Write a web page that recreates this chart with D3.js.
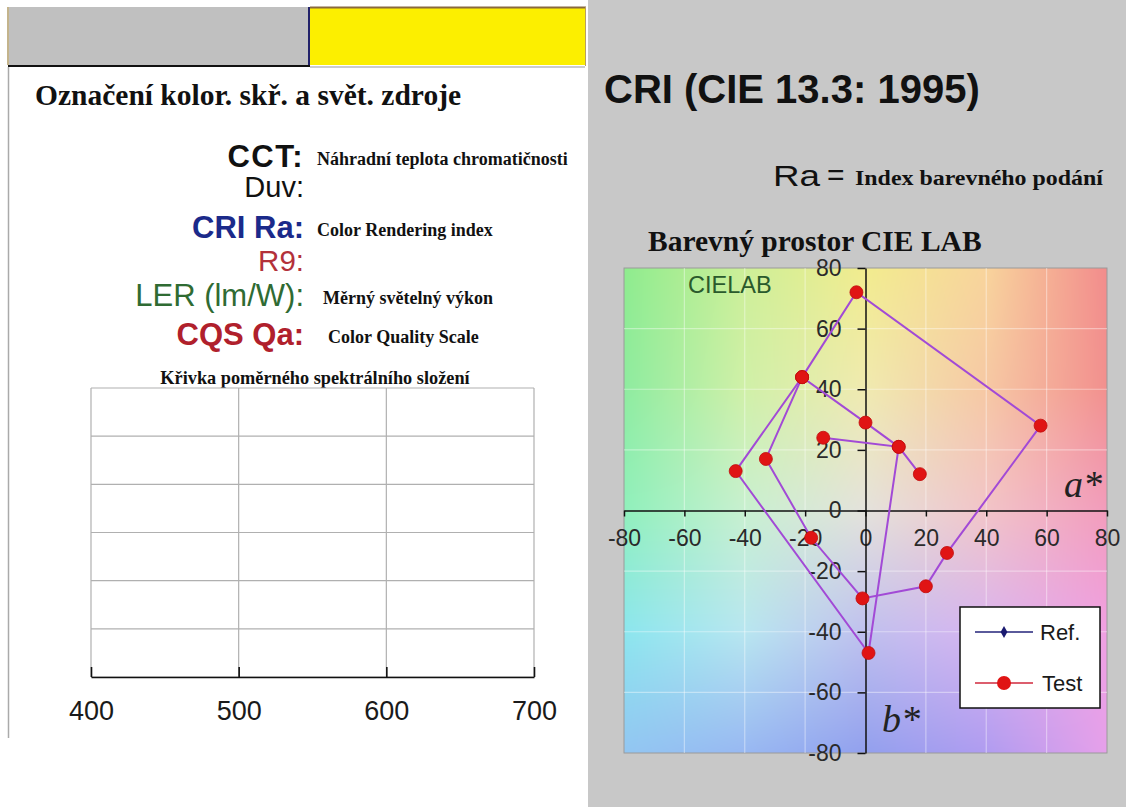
<!DOCTYPE html>
<html>
<head>
<meta charset="utf-8">
<script src="https://cdn.jsdelivr.net/npm/d3@7"></script>
<style>
  body { margin: 0; background: #fff; }
  svg { display: block; }
  .sans { font-family: "Liberation Sans", Arial, sans-serif; }
  .serif { font-family: "Liberation Serif", "Times New Roman", serif; }
</style>
</head>
<body>
<svg id="chart" width="1126" height="807"></svg>
<script>
// ---- data -------------------------------------------------------------
// left panel: labels + descriptions
const infoLabels = ['CCT:', 'Duv:', 'CRI Ra:', 'R9:', 'LER (lm/W):', 'CQS Qa:'];
const infoTexts = ['Náhradní teplota chromatičnosti', '', 'Color Rendering index', '', 'Měrný světelný výkon', 'Color Quality Scale'];
const infoColors = ['#111', '#111', '#1b2a8a', '#b3313a', '#2f6b33', '#b0202c'];
const infoBold = [true, false, true, false, false, true];

// spectrum chart (empty curve, only the frame is left)
const waveTicks = [400, 500, 600, 700];
const powerTicks = [0, 0.2, 0.4, 0.6, 0.8, 1.0, 1.2];

// CIELAB chart
const labTicks = [-80, -60, -40, -20, 0, 20, 40, 60, 80];
// first series: closed loop of eight samples
const refA = [-21, -3, 58, 27, 20, -1, -18, -33, -21];
const refB = [44, 72, 28, -14, -25, -29, -9, 17, 44];
// second series: open path
const testA = [18, 11, 0, -21, -43, 1, 11, -14];
const testB = [12, 21, 29, 44, 13, -47, 21, 24];
const legendNames = ['Ref.', 'Test'];

// background tint of the a*/b* plane, rows b* = 80..-80, cols a* = -80..80
const planeA = [-80, -40, 0, 40, 80];
const planeB = [80, 40, 0, -40, -80];
const planeColors = [
  ['#8eec8e', '#cdef98', '#f2ec8e', '#f8d49c', '#f28c8c'],
  ['#8eeca0', '#d0f0a8', '#f0eab0', '#f6c8a4', '#f2908e'],
  ['#90f0bc', '#c8f0d0', '#e4e2dc', '#f2c4c8', '#f29cbc'],
  ['#8ce6ee', '#b8e6f0', '#c0c0ee', '#d8b4f0', '#f0a0e2'],
  ['#92c6f2', '#98b8f2', '#92a0ee', '#b09cf0', '#e6a0ea']
];

// ---- drawing ----------------------------------------------------------
const svg = d3.select('#chart');

// backgrounds
svg.append('rect').attr('x', 0).attr('y', 0).attr('width', 588).attr('height', 807).attr('fill', '#fff');
svg.append('rect').attr('x', 588).attr('y', 0).attr('width', 538).attr('height', 807).attr('fill', '#c8c8c8');

// top bar
svg.append('rect').attr('x', 8).attr('y', 7).attr('width', 301).attr('height', 58).attr('fill', '#c0c0c0');
svg.append('rect').attr('x', 310).attr('y', 7).attr('width', 275).attr('height', 58).attr('fill', '#fcef00');
svg.append('line').attr('x1', 310).attr('x2', 586).attr('y1', 7.5).attr('y2', 7.5).attr('stroke', '#8a6a3c').attr('stroke-width', 2);
svg.append('line').attr('x1', 8).attr('x2', 8).attr('y1', 7).attr('y2', 65).attr('stroke', '#c4b48c').attr('stroke-width', 2);
svg.append('line').attr('x1', 309).attr('x2', 309).attr('y1', 7).attr('y2', 66).attr('stroke', '#22226a').attr('stroke-width', 2);
svg.append('line').attr('x1', 8).attr('x2', 310).attr('y1', 66).attr('y2', 66).attr('stroke', '#111').attr('stroke-width', 2);
svg.append('line').attr('x1', 310).attr('x2', 585).attr('y1', 67).attr('y2', 67).attr('stroke', '#999').attr('stroke-width', 1);
svg.append('line').attr('x1', 585.5).attr('x2', 585.5).attr('y1', 7).attr('y2', 66).attr('stroke', '#b8a060').attr('stroke-width', 1);
svg.append('line').attr('x1', 8.5).attr('x2', 8.5).attr('y1', 67).attr('y2', 738).attr('stroke', '#aaa').attr('stroke-width', 1.5);

// left heading
svg.append('text').attr('class', 'serif')
  .attr('x', 35).attr('y', 105)
  .attr('font-size', 29.5).attr('font-weight', 'bold').attr('fill', '#111')
  .text('Označení kolor. skř. a svět. zdroje');

const rowY = [167, 197, 238, 271, 306, 345];
const rowSize = [31, 29, 31, 29.5, 31, 31];
const info = svg.append('g');
info.selectAll('text.lab').data(infoLabels).join('text')
  .attr('class', 'sans lab')
  .attr('x', 304).attr('y', (d, i) => rowY[i])
  .attr('text-anchor', 'end')
  .attr('font-size', (d, i) => rowSize[i])
  .attr('letter-spacing', (d, i) => i === 0 ? 1.5 : 0)
  .attr('font-weight', (d, i) => infoBold[i] ? 'bold' : 'normal')
  .attr('fill', (d, i) => infoColors[i])
  .text(d => d);
info.selectAll('text.desc').data(infoTexts).join('text')
  .attr('class', 'serif desc')
  .attr('x', (d, i) => i >= 4 ? 323 + (i - 4) * 5 : 317)
  .attr('y', (d, i) => rowY[i] - 2)
  .attr('font-size', 18).attr('font-weight', 'bold').attr('fill', '#111')
  .text(d => d);

// spectrum chart
const xs = d3.scaleLinear().domain([400, 700]).range([91, 534]);
const ys = d3.scaleLinear().domain([0, 1.2]).range([677, 388]);

svg.append('text').attr('class', 'serif')
  .attr('x', 315).attr('y', 384).attr('text-anchor', 'middle')
  .attr('font-size', 18.3).attr('font-weight', 'bold').attr('fill', '#111')
  .text('Křivka poměrného spektrálního složení');

const spec = svg.append('g');
spec.selectAll('line.h').data(powerTicks).join('line')
  .attr('class', 'h')
  .attr('x1', xs(400)).attr('x2', xs(700))
  .attr('y1', d => ys(d)).attr('y2', d => ys(d))
  .attr('stroke', '#b0b0b0').attr('stroke-width', 1.2);
spec.selectAll('line.v').data(waveTicks).join('line')
  .attr('class', 'v')
  .attr('x1', d => xs(d)).attr('x2', d => xs(d))
  .attr('y1', ys(1.2)).attr('y2', ys(0))
  .attr('stroke', '#b0b0b0').attr('stroke-width', 1.2);

const specAxis = spec.append('g')
  .attr('transform', `translate(0,${ys(0)})`)
  .call(d3.axisBottom(xs).tickValues(waveTicks).tickSizeInner(-10).tickSizeOuter(0).tickPadding(24));
specAxis.select('.domain').attr('stroke', '#111').attr('stroke-width', 1.6);
specAxis.selectAll('.tick line').attr('stroke', '#111').attr('stroke-width', 1.6);
specAxis.selectAll('.tick text')
  .attr('class', 'sans').attr('font-size', 27).attr('fill', '#1a1a1a');

// right panel headings
svg.append('text').attr('class', 'sans')
  .attr('x', 604).attr('y', 103)
  .attr('font-size', 40).attr('font-weight', 'bold').attr('fill', '#111')
  .text('CRI (CIE 13.3: 1995)');
svg.append('text').attr('class', 'sans')
  .attr('x', 773).attr('y', 186).attr('font-size', 30).attr('fill', '#111')
  .attr('textLength', 47).attr('lengthAdjust', 'spacingAndGlyphs')
  .text('Ra');
svg.append('text').attr('class', 'sans')
  .attr('x', 827).attr('y', 185).attr('font-size', 30).attr('fill', '#111')
  .text('=');
svg.append('text').attr('class', 'serif')
  .attr('x', 855).attr('y', 185).attr('font-size', 20).attr('font-weight', 'bold').attr('fill', '#111')
  .attr('textLength', 248).attr('lengthAdjust', 'spacingAndGlyphs')
  .text('Index barevného podání');

svg.append('text').attr('class', 'serif')
  .attr('x', 648).attr('y', 251)
  .attr('font-size', 29.5).attr('font-weight', 'bold').attr('fill', '#111')
  .text('Barevný prostor CIE LAB');

// CIELAB chart
const x = d3.scaleLinear().domain([-80, 80]).range([624, 1107]);
const y = d3.scaleLinear().domain([-80, 80]).range([753, 268]);

// background: bilinear blend of the tint grid, painted on a canvas
const cw = Math.round(x(80) - x(-80));
const ch = Math.round(y(-80) - y(80));
const canvas = document.createElement('canvas');
canvas.width = cw; canvas.height = ch;
const ctx = canvas.getContext('2d');
const img = ctx.createImageData(cw, ch);
const tint = planeColors.map(row => row.map(c => d3.rgb(c)));
const colIdx = d3.scaleLinear().domain(d3.extent(planeA)).range([0, planeA.length - 1]).clamp(true);
const rowIdx = d3.scaleLinear().domain([planeB[0], planeB[planeB.length - 1]]).range([0, planeB.length - 1]).clamp(true);
for (let j = 0; j < ch; j++) {
  const r = rowIdx(y.invert(y(80) + j + 0.5));
  const r0 = Math.min(Math.floor(r), planeB.length - 2), fr = r - r0;
  for (let i = 0; i < cw; i++) {
    const c = colIdx(x.invert(x(-80) + i + 0.5));
    const c0 = Math.min(Math.floor(c), planeA.length - 2), fc = c - c0;
    const p00 = tint[r0][c0], p01 = tint[r0][c0 + 1], p10 = tint[r0 + 1][c0], p11 = tint[r0 + 1][c0 + 1];
    const k = (j * cw + i) * 4;
    ['r', 'g', 'b'].forEach((ch_, n) => {
      const top = p00[ch_] * (1 - fc) + p01[ch_] * fc;
      const bot = p10[ch_] * (1 - fc) + p11[ch_] * fc;
      img.data[k + n] = top * (1 - fr) + bot * fr;
    });
    img.data[k + 3] = 255;
  }
}
ctx.putImageData(img, 0, 0);

const plot = svg.append('g');
plot.append('image')
  .attr('x', x(-80)).attr('y', y(80)).attr('width', cw).attr('height', ch)
  .attr('href', canvas.toDataURL());
plot.append('rect')
  .attr('x', x(-80)).attr('y', y(80)).attr('width', cw).attr('height', ch)
  .attr('fill', 'none').attr('stroke', '#9a9a9a').attr('stroke-width', 1);

const grid = labTicks.filter(d => d !== 0 && Math.abs(d) !== 80);
plot.selectAll('line.gx').data(grid).join('line')
  .attr('class', 'gx')
  .attr('x1', d => x(d)).attr('x2', d => x(d)).attr('y1', y(80)).attr('y2', y(-80))
  .attr('stroke', '#fff').attr('stroke-opacity', 0.4).attr('stroke-width', 1.2);
plot.selectAll('line.gy').data(grid).join('line')
  .attr('class', 'gy')
  .attr('y1', d => y(d)).attr('y2', d => y(d)).attr('x1', x(-80)).attr('x2', x(80))
  .attr('stroke', '#fff').attr('stroke-opacity', 0.4).attr('stroke-width', 1.2);

plot.append('text').attr('class', 'sans')
  .attr('x', 688).attr('y', 293)
  .attr('font-size', 23.5).attr('fill', '#2a5a2c')
  .text('CIELAB');

const fmt = d => String(d);
const xAxis = plot.append('g')
  .attr('transform', `translate(0,${y(0)})`)
  .call(d3.axisBottom(x).tickValues(labTicks).tickFormat(fmt).tickSizeInner(6).tickSizeOuter(0).tickPadding(13));
const yAxis = plot.append('g')
  .attr('transform', `translate(${x(0)},0)`)
  .call(d3.axisLeft(y).tickValues(labTicks).tickFormat(fmt).tickSizeInner(8).tickSizeOuter(0).tickPadding(16));
[xAxis, yAxis].forEach(ax => {
  ax.select('.domain').attr('stroke', '#111').attr('stroke-width', 1.5);
  ax.selectAll('.tick line').attr('stroke', '#111').attr('stroke-width', 1.5);
  ax.selectAll('.tick text').attr('class', 'sans').attr('font-size', 23).attr('fill', '#2a2a2a');
});

plot.append('text').attr('class', 'serif')
  .attr('x', 1064).attr('y', 497)
  .attr('font-size', 38).attr('font-style', 'italic').attr('fill', '#222')
  .text('a*');
plot.append('text').attr('class', 'serif')
  .attr('x', 882).attr('y', 732)
  .attr('font-size', 38).attr('font-style', 'italic').attr('fill', '#222')
  .text('b*');

// series
const line = d3.line().x(d => x(d[0])).y(d => y(d[1]));
const refPts = refA.map((a, i) => [a, refB[i]]);
const testPts = testA.map((a, i) => [a, testB[i]]);
[refPts, testPts].forEach(pts => {
  plot.append('path').datum(pts)
    .attr('d', line)
    .attr('fill', 'none')
    .attr('stroke', '#a24ad6').attr('stroke-width', 2);
});
plot.selectAll('circle.pt').data(refPts.concat(testPts)).join('circle')
  .attr('class', 'pt')
  .attr('cx', d => x(d[0])).attr('cy', d => y(d[1])).attr('r', 6.5)
  .attr('fill', '#e01414').attr('stroke', '#c00d0d').attr('stroke-width', 0.8);

// legend
const lg = plot.append('g').attr('transform', 'translate(960,607)');
lg.append('rect').attr('width', 140).attr('height', 101)
  .attr('fill', '#fff').attr('stroke', '#111').attr('stroke-width', 1.5);
const lgY = [25, 76];
const lgColor = ['#23237a', '#d0283c'];
lg.selectAll('line.l').data(legendNames).join('line')
  .attr('class', 'l')
  .attr('x1', 15).attr('x2', 73).attr('y1', (d, i) => lgY[i]).attr('y2', (d, i) => lgY[i])
  .attr('stroke', (d, i) => lgColor[i]).attr('stroke-width', 1.5);
lg.append('path')
  .attr('d', d3.symbol(d3.symbolDiamond, 40)())
  .attr('transform', `translate(44,${lgY[0]})`)
  .attr('fill', '#1a1a70');
lg.append('circle').attr('cx', 44).attr('cy', lgY[1]).attr('r', 7).attr('fill', '#e01414');
lg.selectAll('text').data(legendNames).join('text')
  .attr('class', 'sans')
  .attr('x', (d, i) => 80 + i * 2).attr('y', (d, i) => lgY[i] + 8)
  .attr('font-size', 22).attr('fill', '#1a1a1a')
  .text(d => d);
</script>
</body>
</html>
